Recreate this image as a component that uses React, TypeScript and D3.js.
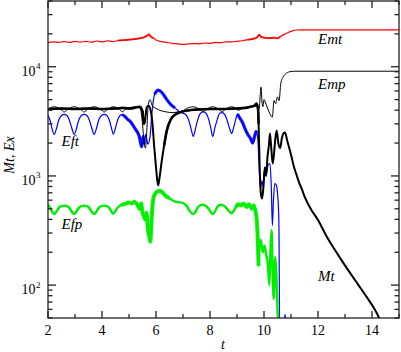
import React, { useEffect, useRef } from 'react';
import * as d3 from 'd3';

// series as [t, value]
const emtData: [number, number][] = [
  [2.0, 16600], [2.2, 16900], [2.4, 16700], [2.6, 17000], [2.8, 16700], [3.0, 17100],
  [3.2, 16800], [3.4, 17100], [3.6, 16800], [3.8, 17200], [4.0, 16900], [4.2, 17300],
  [4.4, 17000], [4.6, 17400], [4.8, 17500], [5.0, 17700], [5.2, 17900], [5.4, 18200],
  [5.55, 18600], [5.68, 19300], [5.74, 19800], [5.8, 19000], [5.9, 18300], [6.0, 17600],
  [6.2, 17000], [6.4, 16700], [6.6, 16400], [6.8, 16200], [7.0, 16000], [7.2, 16200],
  [7.4, 16300], [7.6, 16200], [7.8, 16500], [8.0, 16400], [8.2, 16700], [8.4, 16600],
  [8.6, 16900], [8.8, 16900], [9.0, 17100], [9.2, 17300], [9.4, 17700], [9.6, 18000],
  [9.75, 18600], [9.82, 19700], [9.9, 18700], [10.0, 18500], [10.2, 18300], [10.4, 18500],
  [10.5, 18200], [10.6, 18900], [10.75, 19800], [10.9, 20600], [11.05, 21300], [11.2, 21700],
  [11.4, 21800], [15.0, 21800],
];

const empData: [number, number][] = [
  [2.0, 4050], [2.1, 4220], [2.23, 4300], [2.36, 4220], [2.48, 4060], [2.6, 3850],
  [2.72, 4060], [2.84, 4220], [2.97, 4300], [3.1, 4220], [3.22, 4060], [3.34, 3850],
  [3.46, 4060], [3.58, 4220], [3.71, 4300], [3.84, 4220], [3.96, 4060], [4.08, 3850],
  [4.2, 4060], [4.31, 4220], [4.42, 4300], [4.54, 4220], [4.65, 4060], [4.75, 3870],
  [4.9, 4150], [5.1, 4250], [5.3, 4300], [5.42, 4100], [5.5, 3000], [5.56, 2000],
  [5.61, 1800], [5.66, 2600], [5.71, 4400], [5.78, 5000], [5.86, 4400], [6.0, 4150],
  [6.2, 3950], [6.4, 3850], [6.6, 3800], [6.8, 3850], [7.0, 3950], [7.13, 4150],
  [7.25, 4250], [7.38, 4300], [7.5, 4220], [7.62, 4060], [7.75, 3880], [7.87, 4060],
  [7.98, 4220], [8.1, 4300], [8.22, 4220], [8.33, 4060], [8.45, 3880], [8.56, 4060],
  [8.68, 4220], [8.8, 4300], [8.92, 4220], [9.05, 4000], [9.2, 4150], [9.4, 4200],
  [9.55, 4300], [9.68, 4350], [9.76, 4250], [9.82, 4100], [9.86, 5500], [9.89, 6500],
  [9.93, 4600], [9.96, 4300], [10.0, 5000], [10.08, 4500], [10.18, 3900], [10.31, 3450],
  [10.37, 4900], [10.43, 4600], [10.5, 5300], [10.56, 4900], [10.62, 7000], [10.7, 8000],
  [10.8, 8600], [10.95, 9000], [11.15, 9100], [15.0, 9100],
];

const eftData: [number, number][] = [
  [2.0, 3600], [2.08, 3200], [2.15, 2700], [2.23, 2400], [2.31, 2700], [2.4, 3250],
  [2.5, 3580], [2.6, 3660], [2.7, 3580], [2.79, 3250], [2.88, 2750], [2.97, 2400],
  [3.05, 2700], [3.14, 3250], [3.24, 3580], [3.34, 3660], [3.44, 3580], [3.53, 3250],
  [3.62, 2750], [3.71, 2400], [3.79, 2700], [3.88, 3250], [3.98, 3580], [4.08, 3660],
  [4.18, 3580], [4.27, 3250], [4.35, 2750], [4.42, 2420], [4.5, 2750], [4.58, 3250],
  [4.67, 3580], [4.75, 3650], [4.85, 3500], [4.95, 3300], [5.05, 3150], [5.15, 2900],
  [5.25, 2650], [5.32, 2500], [5.38, 2300], [5.43, 2000], [5.47, 1850], [5.52, 2300],
  [5.56, 1950], [5.62, 2400], [5.7, 1950], [5.78, 2300], [5.85, 3800], [5.95, 5600],
  [6.08, 6100], [6.22, 5800], [6.4, 5000], [6.55, 4500], [6.7, 4200], [6.85, 3900],
  [7.0, 3750], [7.1, 3650], [7.2, 3300], [7.3, 2700], [7.38, 2300], [7.46, 2700],
  [7.55, 3300], [7.65, 3750], [7.75, 3850], [7.85, 3750], [7.95, 3300], [8.03, 2750],
  [8.1, 2300], [8.18, 2750], [8.27, 3300], [8.36, 3750], [8.45, 3800], [8.55, 3650],
  [8.64, 3200], [8.72, 2750], [8.8, 2450], [8.88, 2800], [8.96, 3350], [9.02, 3700],
  [9.1, 3400], [9.2, 3100], [9.3, 2700], [9.4, 2400], [9.5, 2200], [9.58, 2000],
  [9.65, 2300], [9.72, 2600], [9.78, 2000], [9.82, 1200], [9.87, 760], [9.92, 900],
  [9.97, 800], [10.02, 1150], [10.08, 1050], [10.15, 1250], [10.22, 1300], [10.27, 800],
  [10.31, 350], [10.35, 600], [10.4, 850], [10.45, 830], [10.5, 700], [10.55, 400],
  [10.58, 45], [10.75, 45], [10.78, 54], [10.81, 45],
];

const efpData: [number, number][] = [
  [2.0, 545], [2.08, 510], [2.15, 470], [2.23, 447], [2.31, 470], [2.4, 510],
  [2.5, 530], [2.6, 535], [2.7, 530], [2.79, 510], [2.88, 470], [2.97, 447],
  [3.05, 470], [3.14, 510], [3.24, 530], [3.34, 535], [3.44, 530], [3.53, 510],
  [3.62, 470], [3.71, 447], [3.79, 470], [3.88, 510], [3.98, 530], [4.08, 535],
  [4.18, 530], [4.27, 510], [4.35, 470], [4.42, 450], [4.5, 480], [4.6, 520],
  [4.73, 545], [4.85, 555], [5.0, 570], [5.1, 560], [5.2, 580], [5.3, 550],
  [5.4, 500], [5.45, 560], [5.5, 460], [5.55, 430], [5.6, 400], [5.65, 460],
  [5.7, 330], [5.75, 280], [5.79, 250], [5.82, 330], [5.86, 500], [5.9, 620],
  [5.96, 680], [6.05, 720], [6.15, 730], [6.25, 700], [6.35, 660], [6.5, 625],
  [6.65, 590], [6.8, 575], [6.95, 570], [7.05, 555], [7.14, 530], [7.22, 490],
  [7.3, 460], [7.38, 448], [7.46, 470], [7.55, 515], [7.65, 540], [7.75, 545],
  [7.85, 530], [7.95, 500], [8.03, 465], [8.1, 448], [8.18, 470], [8.27, 520],
  [8.37, 545], [8.47, 540], [8.57, 520], [8.66, 490], [8.74, 465], [8.8, 455],
  [8.88, 480], [8.96, 520], [9.05, 550], [9.15, 535], [9.25, 560], [9.35, 520],
  [9.45, 550], [9.55, 500], [9.62, 540], [9.68, 480], [9.73, 400], [9.77, 260],
  [9.8, 150], [9.83, 230], [9.88, 260], [9.95, 200], [10.02, 230], [10.08, 190],
  [10.14, 160], [10.2, 100], [10.24, 210], [10.28, 320], [10.32, 130], [10.36, 75],
  [10.41, 180], [10.45, 140], [10.5, 60], [10.55, 45],
];

const mtData: [number, number][] = [
  [2.0, 4100], [2.5, 4150], [3.0, 4100], [3.5, 4150], [4.0, 4100], [4.5, 4150],
  [4.8, 4200], [5.0, 4150], [5.2, 4200], [5.4, 4300], [5.5, 3900], [5.55, 3000],
  [5.6, 3300], [5.65, 4200], [5.72, 4400], [5.8, 4000], [5.87, 3000], [5.93, 1900],
  [6.0, 1200], [6.05, 900], [6.08, 820], [6.12, 920], [6.2, 1300], [6.3, 1900],
  [6.4, 2600], [6.55, 3300], [6.75, 3700], [7.0, 3900], [7.5, 4050], [8.0, 4100],
  [8.5, 4100], [9.0, 4150], [9.3, 4200], [9.5, 4300], [9.65, 4400], [9.72, 4600],
  [9.78, 4100], [9.8, 3000], [9.84, 1200], [9.88, 700], [9.93, 620], [9.98, 800],
  [10.03, 1200], [10.08, 1000], [10.13, 1500], [10.18, 1900], [10.22, 2450], [10.27, 1800],
  [10.32, 1300], [10.36, 1500], [10.42, 2200], [10.47, 2600], [10.53, 2000], [10.6, 1800],
  [10.66, 2200], [10.72, 2450], [10.78, 2500], [10.86, 2100], [10.95, 1750], [11.02, 1500],
  [11.1, 1230], [11.2, 1030], [11.3, 870], [11.4, 760], [11.5, 650], [11.75, 490],
  [12.0, 395], [12.3, 285], [12.6, 215], [12.9, 165], [13.2, 128], [13.5, 100],
  [13.8, 78], [14.1, 60], [14.3, 48],
];

// t-ranges where the traces are noisy (drawn as wider bands)
const emtNoisy: [number, number][] = [[4.6, 5.9], [9.3, 10.6]];
const eftNoisy: [number, number][] = [[4.75, 5.6], [5.95, 6.7], [9.0, 9.75]];
const efpNoisy: [number, number][] = [[4.7, 6.6], [8.9, 9.8]];
const mtNoisy: [number, number][] = [[2.0, 5.6], [6.3, 9.8]];

const xTickValues = [2, 4, 6, 8, 10, 12, 14];
const yDecades = [100, 1000, 10000];
const yExponents = ['2', '3', '4'];

const seriesLabels = [
  { text: 'Emt', t: 12.0, v: 16200 },
  { text: 'Emp', t: 12.0, v: 6300 },
  { text: 'Eft', t: 2.5, v: 1880 },
  { text: 'Efp', t: 2.5, v: 330 },
  { text: 'Mt', t: 12.0, v: 110 },
];

const App = () => {
  const ref = useRef<SVGSVGElement | null>(null);

  useEffect(() => {
    if (!ref.current) return;
    const svg = d3.select(ref.current);
    svg.selectAll('*').remove();

    const left = 48, right = 399, top = 1, bottom = 318;
    const font = 'Liberation Serif';

    const x = d3.scaleLinear().domain([2, 15]).range([left, right]);
    const y = d3.scaleLog().domain([50, 40000]).range([bottom, top]);

    svg.append('rect').attr('width', 401).attr('height', 352).attr('fill', '#fff');

    svg.append('defs').append('clipPath').attr('id', 'plot-clip')
      .append('rect')
      .attr('x', left).attr('y', top)
      .attr('width', right - left).attr('height', bottom - top);

    const plot = svg.append('g').attr('clip-path', 'url(#plot-clip)');

    const line = d3.line<[number, number]>()
      .x(d => x(d[0]))
      .y(d => y(d[1]))
      .curve(d3.curveMonotoneX);

    const draw = (data: [number, number][], color: string, width: number,
      bands: [number, number][], bandWidth: number) => {
      plot.append('path')
        .datum(data)
        .attr('d', line)
        .attr('fill', 'none')
        .attr('stroke', color)
        .attr('stroke-width', width)
        .attr('stroke-linejoin', 'round');
      bands.forEach(([a, b]) => {
        plot.append('path')
          .datum(data.filter(d => d[0] >= a && d[0] <= b))
          .attr('d', line)
          .attr('fill', 'none')
          .attr('stroke', color)
          .attr('stroke-width', bandWidth)
          .attr('stroke-linejoin', 'round')
          .attr('opacity', 0.9);
      });
    };

    draw(efpData, '#00ee00', 2.4, efpNoisy, 4.0);
    draw(eftData, '#0000ff', 1.2, eftNoisy, 3.2);
    draw(mtData, '#000', 2.0, mtNoisy, 2.6);
    draw(empData, '#000', 1.0, [], 1);
    draw(emtData, '#ff0000', 1.2, emtNoisy, 1.8);

    // frame
    const axis = svg.append('g').attr('stroke', '#222').attr('stroke-width', 1.3);
    axis.append('rect')
      .attr('x', left).attr('y', top)
      .attr('width', right - left).attr('height', bottom - top)
      .attr('fill', 'none');

    // x ticks (bottom and top)
    d3.range(2, 16).forEach(t => {
      const len = t % 2 === 0 ? 7 : 4;
      const px = x(t);
      axis.append('line').attr('x1', px).attr('x2', px).attr('y1', bottom).attr('y2', bottom - len);
      axis.append('line').attr('x1', px).attr('x2', px).attr('y1', top).attr('y2', top + len);
    });

    // y ticks (left and right)
    [10, 100, 1000, 10000].forEach(dec => {
      d3.range(1, 10).forEach(m => {
        const v = dec * m;
        if (v < 50 || v > 40000) return;
        const len = m === 1 ? 8 : 4.5;
        const py = y(v);
        axis.append('line').attr('x1', left).attr('x2', left + len).attr('y1', py).attr('y2', py);
        axis.append('line').attr('x1', right).attr('x2', right - len).attr('y1', py).attr('y2', py);
      });
    });

    const labels = svg.append('g').style('font-family', font);

    labels.selectAll('.xlab')
      .data(xTickValues)
      .enter()
      .append('text')
      .attr('x', d => x(d))
      .attr('y', 335)
      .attr('text-anchor', 'middle')
      .attr('font-size', 14)
      .text(d => d);

    yDecades.forEach((v, i) => {
      const py = y(v);
      labels.append('text')
        .attr('x', 35.5)
        .attr('y', py + 9)
        .attr('text-anchor', 'end')
        .attr('font-size', 14)
        .text('10');
      labels.append('text')
        .attr('x', 36)
        .attr('y', py + 2.5)
        .attr('font-size', 9)
        .text(yExponents[i]);
    });

    labels.append('text')
      .attr('transform', 'translate(13.5,155) rotate(-90)')
      .attr('text-anchor', 'middle')
      .attr('font-style', 'italic')
      .attr('font-size', 14)
      .text('Mt, Ex');

    labels.append('text')
      .attr('x', 223)
      .attr('y', 349)
      .attr('text-anchor', 'middle')
      .attr('font-style', 'italic')
      .attr('font-size', 14)
      .text('t');

    labels.selectAll('.slab')
      .data(seriesLabels)
      .enter()
      .append('text')
      .attr('x', d => x(d.t))
      .attr('y', d => y(d.v))
      .attr('font-style', 'italic')
      .attr('font-size', 15)
      .text(d => d.text);
  }, []);

  return (
    <svg ref={ref} width={401} height={352}
      style={{ position: 'absolute', left: 0, top: 0 }} />
  );
};

export default App;
